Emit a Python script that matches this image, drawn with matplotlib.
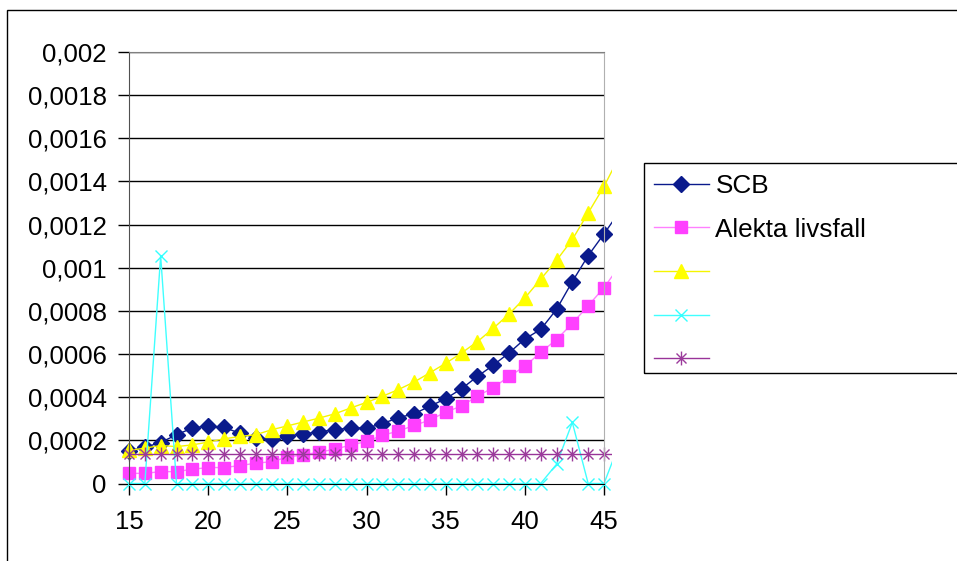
import matplotlib
matplotlib.use("Agg")
import matplotlib.pyplot as plt
from matplotlib.path import Path
from matplotlib.patches import Rectangle
from matplotlib.transforms import Bbox, TransformedBbox
from matplotlib.ticker import FuncFormatter

plt.rcParams['font.family'] = ['Liberation Sans', 'DejaVu Sans']

ages = list(range(15, 47))
scb = [0.000151, 0.000168, 0.000190, 0.000226, 0.000257, 0.000267, 0.000260, 0.000233,
       0.000212, 0.000206, 0.000221, 0.000229, 0.000240, 0.000249, 0.000258, 0.000257,
       0.000277, 0.000305, 0.000323, 0.000358, 0.000393, 0.000439, 0.000496, 0.000548,
       0.000605, 0.000670, 0.000714, 0.000807, 0.000936, 0.001056, 0.001157, 0.001262]
alekta = [0.000047, 0.000047, 0.000055, 0.000055, 0.000066, 0.000074, 0.000074, 0.000083,
          0.000094, 0.000101, 0.000122, 0.000133, 0.000145, 0.000159, 0.000178, 0.000195,
          0.000223, 0.000243, 0.000269, 0.000294, 0.000331, 0.000359, 0.000405, 0.000444,
          0.000496, 0.000543, 0.000608, 0.000667, 0.000742, 0.000824, 0.000908, 0.001010]
series3 = [0.000153, 0.000164, 0.000176, 0.000171, 0.000179, 0.000192, 0.000207, 0.000218,
           0.000226, 0.000249, 0.000267, 0.000285, 0.000303, 0.000323, 0.000350, 0.000376,
           0.000404, 0.000435, 0.000470, 0.000513, 0.000557, 0.000605, 0.000657, 0.000719,
           0.000785, 0.000860, 0.000947, 0.001034, 0.001131, 0.001254, 0.001377, 0.001520]
series4 = [0.0, 0.0, 0.001055, 0.0, 0.0, 0.0, 0.0, 0.0,
           0.0, 0.0, 0.0, 0.0, 0.0, 0.0, 0.0, 0.0,
           0.0, 0.0, 0.0, 0.0, 0.0, 0.0, 0.0, 0.0,
           0.0, 0.0, 0.0, 0.000089, 0.000283, 0.0, 0.0, 0.00019]
series5 = [0.000136] * 32

labels = ['SCB', 'Alekta livsfall', '', '', '']
x_ticks = [15, 20, 25, 30, 35, 40, 45]
y_ticks = [i * 0.0002 for i in range(11)]

W, H = 957, 561
fig = plt.figure(figsize=(W / 100, H / 100), dpi=100)
fig.patch.set_facecolor('white')

# outer chart border
fig.patches.append(Rectangle((7 / W, -0.1), 1.2, (H - 10) / H + 0.1, transform=fig.transFigure,
                             fill=False, edgecolor='black', linewidth=1.0))

L, R, T, B = 129, 604, 52, 483.5
ax = fig.add_axes([L / W, (H - B) / H, (R - L) / W, (B - T) / H])
ax.set_xlim(15, 45)
ax.set_ylim(0, 0.002)

asterisk = Path([(0, -1), (0, 1), (-0.72, -0.72), (0.72, 0.72), (-0.72, 0.72), (0.72, -0.72)],
                [Path.MOVETO, Path.LINETO, Path.MOVETO, Path.LINETO, Path.MOVETO, Path.LINETO])

styles = [
    dict(color='#0a1a8c', marker='D', markersize=8.5, mfc='#0a1a8c', mec='#0a1a8c'),
    dict(color='#ff80ff', marker='s', markersize=9, mfc='#ff40ff', mec='#ff40ff'),
    dict(color='#f5f500', marker='^', markersize=10.5, mfc='#ffff00', mec='#ffff00'),
    dict(color='#40ffff', marker='x', markersize=9, mfc='none', mec='#33ffff', mew=1.0),
    dict(color='#993399', marker=asterisk, markersize=10, mfc='none', mec='#9b3b9b', mew=1.0),
]
data = [scb, alekta, series3, series4, series5]

clip = TransformedBbox(Bbox([[13.5, -0.0002], [45.5, 0.0022]]), ax.transData)
handles = []
for vals, st, lab in zip(data, styles, labels):
    ln, = ax.plot(ages, vals, linewidth=1.0, markevery=list(range(31)), label=lab, **st)
    ln.set_clip_box(clip)
    handles.append(ln)

for y in y_ticks[1:]:
    ax.axhline(y, color='black', linewidth=1.0, zorder=0.5)

ax.set_xticks(x_ticks)
ax.set_yticks(y_ticks)
ax.yaxis.set_major_formatter(FuncFormatter(lambda v, p: '0' if v == 0 else ('%g' % round(v, 5)).replace('.', ',')))
ax.tick_params(axis='both', direction='out', length=8, width=1, labelsize=18.5, colors='black')
ax.tick_params(axis='y', pad=8)
ax.tick_params(axis='x', pad=11)

ax.spines['left'].set_color('#505050')
ax.spines['bottom'].set_color('black')
ax.spines['top'].set_color('#808080')
ax.spines['right'].set_color('#b0b0b0')
ax.set_facecolor('white')

# legend box
fig.patches.append(Rectangle((644 / W, (H - 373) / H), 0.5, (373 - 163) / H, transform=fig.transFigure,
                             fill=False, edgecolor='black', linewidth=1.0, zorder=3))
leg = fig.legend(handles=handles, labels=labels, loc='upper left',
                 bbox_to_anchor=(654 / W, (H - 174) / H), frameon=False, fontsize=18.8,
                 handlelength=2.1, handletextpad=0.25, labelspacing=0.75, borderpad=0.0,
                 borderaxespad=0.0)

fig.savefig('out.png', dpi=100)
